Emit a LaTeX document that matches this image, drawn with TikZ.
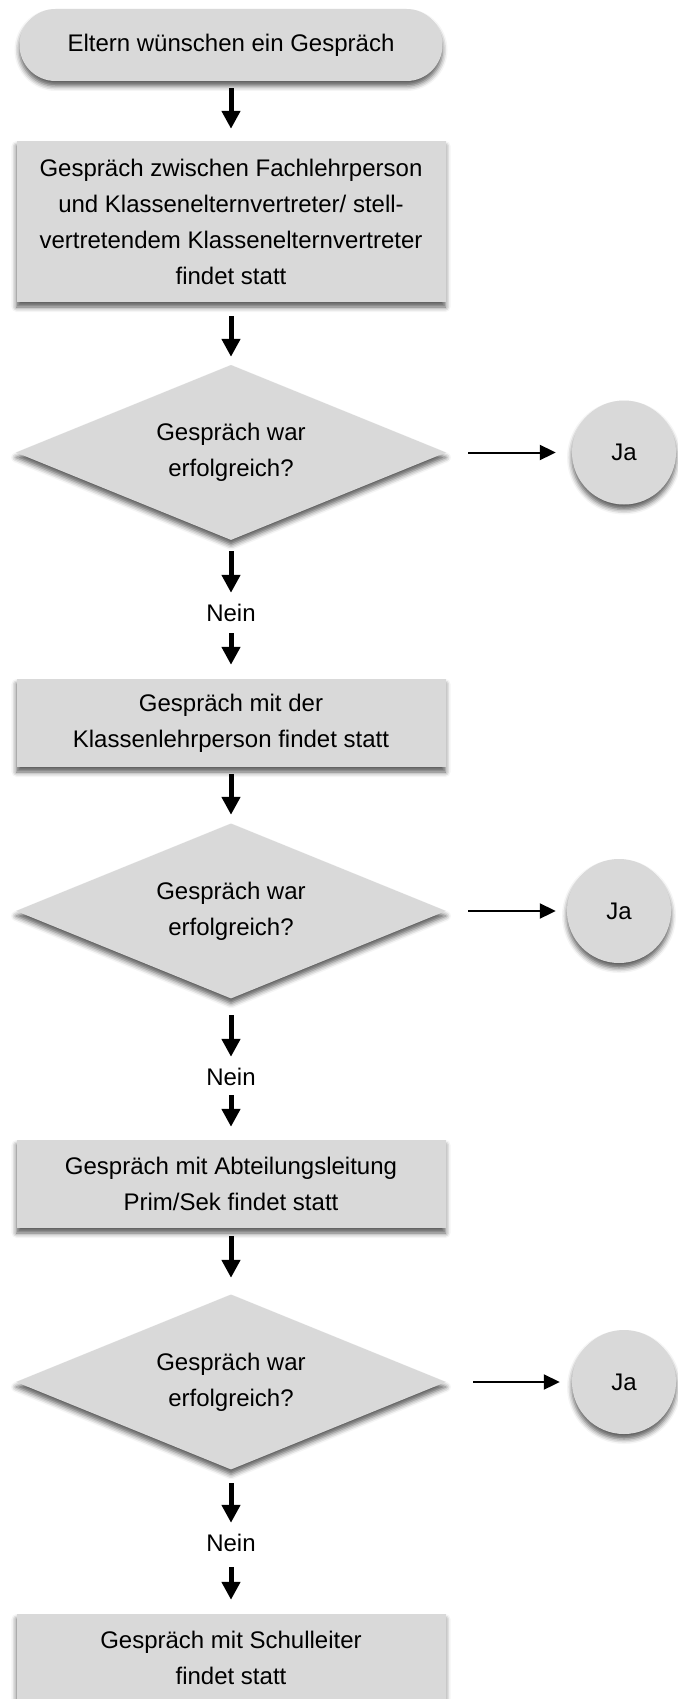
\documentclass[tikz,border=0pt]{standalone}
\usepackage{fontspec}
\setmainfont{Liberation Sans}
\usetikzlibrary{shapes.geometric,arrows.meta,shadows.blur}
\definecolor{boxgray}{RGB}{217,217,217}
\begin{document}
\begin{tikzpicture}[x=1pt,y=-1pt,font=\fontsize{24}{36}\selectfont,
  soft/.style={blur shadow={shadow xshift=0pt,shadow yshift=-5pt,shadow blur radius=5pt,shadow opacity=65}},
  startbox/.style={rectangle,rounded corners=36,fill=boxgray,soft,minimum width=423,minimum height=72,inner sep=0},
  stepbox/.style={rectangle,fill=boxgray,soft,minimum width=429,minimum height=88,inner sep=0,align=center},
  decision/.style={diamond,aspect=2.46,fill=boxgray,soft,minimum width=430,minimum height=175,inner sep=0,align=center},
  yesnode/.style={circle,fill=boxgray,soft,minimum size=104,inner sep=0},
  nein/.style={inner sep=0,minimum height=30},
  down/.style={-{Triangle[width=18pt,length=18pt]},line width=5pt},
  right/.style={-{Triangle[width=15pt,length=16pt]},line width=2pt}]
\useasboundingbox (0,0) rectangle (677,1699);
\node[startbox] (start) at (231,45) {Eltern wünschen ein Gespräch};
\node[stepbox,minimum height=161] (b1) at (231,221.5) {Gespräch zwischen Fachlehrperson\\und Klassenelternvertreter/ stell-\\vertretendem Klassenelternvertreter\\findet statt};
\node[decision] (d1) at (231,452.5) {Gespräch war\\erfolgreich?};
\node[yesnode] (j1) at (624,452.5) {Ja};
\node[nein] (n1) at (231,613) {Nein};
\node[stepbox] (b2) at (231,723) {Gespräch mit der\\Klassenlehrperson findet statt};
\node[decision] (d2) at (231,911) {Gespräch war\\erfolgreich?};
\node[yesnode] (j2) at (619,911) {Ja};
\node[nein] (n2) at (231,1077) {Nein};
\node[stepbox] (b3) at (231,1184) {Gespräch mit Abteilungsleitung\\Prim/Sek findet statt};
\node[decision] (d3) at (231,1382) {Gespräch war\\erfolgreich?};
\node[yesnode] (j3) at (624,1382) {Ja};
\node[nein] (n3) at (231,1543) {Nein};
\node[stepbox] (b4) at (231,1658) {Gespräch mit Schulleiter\\findet statt};
\foreach \a/\b/\s/\e in {start/b1/7/12,b1/d1/14/8,d1/n1/11/5,n1/b2/5/14,b2/d2/7/8.5,
  d2/n2/16.5/5,n2/b3/3/13,b3/d3/8/16.5,d3/n3/13.5/5,n3/b4/9/14}
  \draw[down,shorten <=\s,shorten >=\e] (\a) -- (\b);
\foreach \a/\b/\s/\e in {d1/j1/22/16,d2/j2/22/11,d3/j3/27/12}
  \draw[right,shorten <=\s,shorten >=\e] (\a) -- (\b);
\end{tikzpicture}
\end{document}
